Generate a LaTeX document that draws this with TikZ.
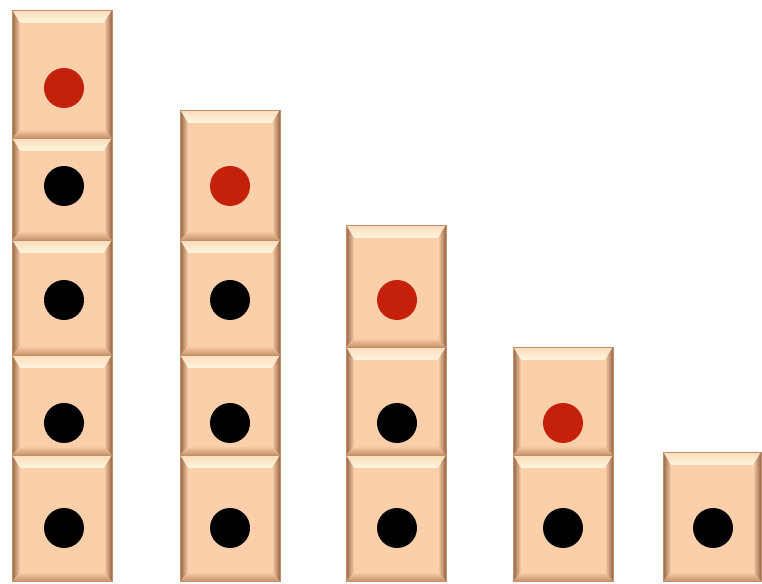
\documentclass[tikz,border=0pt]{standalone}
\definecolor{peach}{RGB}{250,207,170}
\definecolor{peachlt}{RGB}{255,246,222}
\definecolor{peachdk}{RGB}{150,100,68}
\definecolor{peachmd}{RGB}{200,145,105}
\definecolor{dotred}{RGB}{196,32,10}
\newcommand\dicebox[4]{%
  \def\xa{#1}\def\xb{#3}%
  \pgfmathsetmacro\ya{583-#2}\pgfmathsetmacro\yb{583-#4}%
  \fill[peach] (\xa,\ya) rectangle (\xb,\yb);
  \shade[top color=peach!70!peachlt, bottom color=peachlt] (\xa,\ya) -- (\xb,\ya) -- (\xb-8,\ya-13) -- (\xa+8,\ya-13) -- cycle;
  \shade[top color=peach, bottom color=peachmd] (\xa,\yb) -- (\xb,\yb) -- (\xb-8,\yb+9) -- (\xa+8,\yb+9) -- cycle;
  \shade[left color=peachdk, right color=peach] (\xa,\ya) -- (\xa+8,\ya-13) -- (\xa+8,\yb+9) -- (\xa,\yb) -- cycle;
  \shade[left color=peach, right color=peachdk] (\xb,\ya) -- (\xb-8,\ya-13) -- (\xb-8,\yb+9) -- (\xb,\yb) -- cycle;
  \draw[peachdk!60!peach, line width=0.4] (\xa,\ya) rectangle (\xb,\yb);
}
\newcommand\dicedot[3]{\fill[#3] (#1,{583-#2}) circle (20);}
\begin{document}
\begin{tikzpicture}[x=1pt,y=1pt]
\useasboundingbox (0,0) rectangle (762,583);
\fill[white] (0,0) rectangle (762,583);
% column 1
\dicebox{12}{455}{112}{581}
\dicebox{12}{355}{112}{455}
\dicebox{12}{240}{112}{355}
\dicebox{12}{138}{112}{240}
\dicebox{12}{10}{112}{138}
\dicedot{64}{528}{black}
\dicedot{64}{423}{black}
\dicedot{64}{300}{black}
\dicedot{64}{186}{black}
\dicedot{64}{88}{dotred}
% column 2
\dicebox{180}{455}{280}{581}
\dicebox{180}{355}{280}{455}
\dicebox{180}{240}{280}{355}
\dicebox{180}{110}{280}{240}
\dicedot{230}{528}{black}
\dicedot{230}{423}{black}
\dicedot{230}{300}{black}
\dicedot{230}{186}{dotred}
% column 3
\dicebox{346}{455}{446}{581}
\dicebox{346}{347}{446}{455}
\dicebox{346}{225}{446}{347}
\dicedot{397}{528}{black}
\dicedot{397}{423}{black}
\dicedot{397}{300}{dotred}
% column 4
\dicebox{513}{455}{613}{581}
\dicebox{513}{347}{613}{455}
\dicedot{563}{528}{black}
\dicedot{563}{423}{dotred}
% column 5
\dicebox{663}{452}{761}{581}
\dicedot{713}{528}{black}
\end{tikzpicture}
\end{document}
